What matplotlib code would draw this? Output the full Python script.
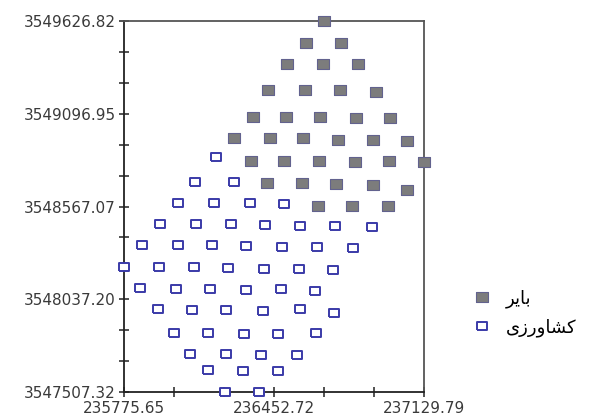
import numpy as np
import matplotlib
matplotlib.use('Agg')
import matplotlib.pyplot as plt
from matplotlib import font_manager, ft2font
from matplotlib.ticker import FixedLocator, NullFormatter

# ---------------- data ----------------
bayer_x = [236679.1,
           236597.9, 236755.7,
           236512.3, 236674.5, 236832.3,
           236426.7, 236593.4, 236751.1, 236913.4,
           236359.1, 236507.8, 236661.0, 236823.2, 236976.4,
           236273.5, 236435.7, 236584.4, 236742.1, 236899.8, 237053.1,
           236350.1, 236498.8, 236656.5, 236818.7, 236971.9, 237129.8,
           236422.2, 236579.9, 236733.1, 236899.8, 237053.1,
           236652.0, 236805.2, 236967.4]
bayer_y = [3549626.8,
           3549501.1, 3549501.1,
           3549381.2, 3549381.2, 3549381.2,
           3549232.6, 3549232.6, 3549232.6, 3549221.2,
           3549078.4, 3549078.4, 3549078.4, 3549072.7, 3549072.7,
           3548958.4, 3548958.4, 3548958.4, 3548947.0, 3548947.0, 3548941.3,
           3548827.0, 3548827.0, 3548827.0, 3548821.3, 3548827.0, 3548821.3,
           3548701.3, 3548701.3, 3548695.6, 3548689.9, 3548661.3,
           3548569.9, 3548569.9, 3548569.9]

agri_x = [236192.4,
          236097.8, 236273.5,
          236021.2, 236183.4, 236345.6, 236498.8,
          235940.1, 236102.3, 236260.0, 236413.2, 236570.9, 236728.6, 236895.3,
          235859.0, 236021.2, 236174.4, 236327.6, 236489.8, 236647.5, 236809.7,
          235777.9, 235935.6, 236093.3, 236246.5, 236408.7, 236566.4, 236719.6,
          235850.0, 236012.2, 236165.4, 236327.6, 236485.3, 236638.5,
          235931.1, 236084.3, 236237.5, 236404.2, 236570.9, 236724.1,
          236003.2, 236156.4, 236318.6, 236471.8, 236643.0,
          236075.3, 236237.5, 236395.2, 236557.4,
          236156.4, 236314.1, 236471.8,
          236233.0, 236386.2]
agri_y = [3548849.9,
          3548707.0, 3548707.0,
          3548587.1, 3548587.1, 3548587.1, 3548581.4,
          3548467.1, 3548467.1, 3548467.1, 3548461.4, 3548455.7, 3548455.7, 3548449.9,
          3548347.1, 3548347.1, 3548347.1, 3548341.4, 3548335.7, 3548335.7, 3548330.0,
          3548221.4, 3548221.4, 3548221.4, 3548215.7, 3548210.0, 3548210.0, 3548204.3,
          3548101.5, 3548095.7, 3548095.7, 3548090.0, 3548095.7, 3548084.3,
          3547981.5, 3547975.8, 3547975.8, 3547970.1, 3547981.5, 3547958.6,
          3547844.4, 3547844.4, 3547838.7, 3547838.7, 3547844.4,
          3547724.4, 3547724.4, 3547718.7, 3547718.7,
          3547633.0, 3547627.3, 3547627.3,
          3547507.3, 3547507.3]

x_ticks = [235775.65, 236452.72, 237129.79]
x_tick_labels = ['235775.65', '236452.72', '237129.79']
y_ticks = [3547507.32, 3548037.20, 3548567.07, 3549096.95, 3549626.82]
y_tick_labels = ['3547507.32', '3548037.20', '3548567.07', '3549096.95', '3549626.82']

# ---------------- Persian labels (pre-shaped presentation forms, visual order) ----------------
_path = font_manager.findfont(font_manager.FontProperties(family='DejaVu Sans'))
_cmap = ft2font.FT2Font(_path).get_charmap()
def _g(c, alt):
    return c if ord(c) in _cmap else alt

label_bayer = _g('\uFEAE', '\u0631') + _g('\uFBFE', '\uFEF3') + _g('\uFE8E', '\u0627') + _g('\uFE91', '\u0628')
label_agri = ('\u06CC' + _g('\uFEAF', '\u0632') + _g('\uFEAD', '\u0631') + _g('\uFEED', '\u0648')
              + _g('\uFE8E', '\u0627') + _g('\uFEB8', '\u0634') + _g('\uFB90', '\uFEDB'))

# ---------------- figure ----------------
plt.rcParams['font.family'] = ['DejaVu Sans']
fig = plt.figure(figsize=(5.98, 4.19), dpi=100)
ax = fig.add_axes([123.5 / 598, 27 / 419, 300.5 / 598, 371 / 419])

rect_a = [(-1.2, -1), (1.2, -1), (1.2, 1), (-1.2, 1), (-1.2, -1)]
rect_b = [(-1.1, -1), (1.1, -1), (1.1, 1), (-1.1, 1), (-1.1, -1)]

h_agri, = ax.plot(agri_x, agri_y, linestyle='none', marker=rect_a, markersize=7,
                  markerfacecolor='white', markeredgecolor='#3a3aa8', markeredgewidth=1.4,
                  clip_on=False, zorder=3)
h_bayer, = ax.plot(bayer_x, bayer_y, linestyle='none', marker=rect_b, markersize=8.3,
                   markerfacecolor='#7c7c7c', markeredgecolor='#62628e', markeredgewidth=0.8,
                   clip_on=False, zorder=4)

ax.set_xlim(x_ticks[0], x_ticks[-1])
ax.set_ylim(y_ticks[0], y_ticks[-1])

ax.xaxis.set_major_locator(FixedLocator(x_ticks))
ax.set_xticklabels(x_tick_labels)
ax.xaxis.set_minor_locator(FixedLocator(np.linspace(x_ticks[0], x_ticks[-1], 7)))
ax.yaxis.set_major_locator(FixedLocator(y_ticks))
ax.set_yticklabels(y_tick_labels)
ax.yaxis.set_minor_locator(FixedLocator(np.linspace(y_ticks[0], y_ticks[-1], 13)))
ax.xaxis.set_minor_formatter(NullFormatter())
ax.yaxis.set_minor_formatter(NullFormatter())

for which in ('major', 'minor'):
    ax.tick_params(axis='both', which=which, direction='inout', length=7, width=1.1,
                   color='#222222')
ax.tick_params(axis='y', which='major', pad=2, labelsize=11, labelcolor='#3a3a3a')
ax.tick_params(axis='x', which='major', pad=3, labelsize=11, labelcolor='#3a3a3a')

for side in ('left', 'bottom'):
    ax.spines[side].set_color('#222222')
    ax.spines[side].set_linewidth(1.3)
for side in ('right', 'top'):
    ax.spines[side].set_color('#555555')
    ax.spines[side].set_linewidth(1.3)

fig.legend([h_bayer, h_agri], [label_bayer, label_agri], loc='upper left',
           bbox_to_anchor=(473 / 598, 1 - 289 / 419), frameon=False,
           fontsize=13, handlelength=1.0, handletextpad=0.8, labelspacing=0.6,
           borderaxespad=0, borderpad=0)

fig.savefig('out.png', dpi=100)
